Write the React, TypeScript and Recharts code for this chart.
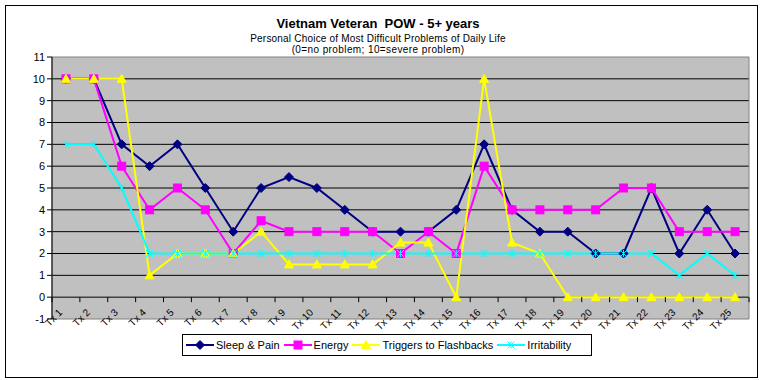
import React from 'react';
import { LineChart, Line, XAxis, YAxis, CartesianGrid, ReferenceArea, Legend } from 'recharts';

const categories = ['Tx 1', 'Tx 2', 'Tx 3', 'Tx 4', 'Tx 5', 'Tx 6', 'Tx 7', 'Tx 8', 'Tx 9', 'Tx 10', 'Tx 11', 'Tx 12', 'Tx 13', 'Tx 14', 'Tx 15', 'Tx 16', 'Tx 17', 'Tx 18', 'Tx 19', 'Tx 20', 'Tx 21', 'Tx 22', 'Tx 23', 'Tx 24', 'Tx 25'];
const sleepPain = [10, 10, 7, 6, 7, 5, 3, 5, 5.5, 5, 4, 3, 3, 3, 4, 7, 4, 3, 3, 2, 2, 5, 2, 4, 2];
const energy = [10, 10, 6, 4, 5, 4, 2, 3.5, 3, 3, 3, 3, 2, 3, 2, 6, 4, 4, 4, 4, 5, 5, 3, 3, 3];
const triggers = [10, 10, 10, 1, 2, 2, 2, 3, 1.5, 1.5, 1.5, 1.5, 2.5, 2.5, 0, 10, 2.5, 2, 0, 0, 0, 0, 0, 0, 0];
const irritability = [7, 7, 5, 2, 2, 2, 2, 2, 2, 2, 2, 2, 2, 2, 2, 2, 2, 2, 2, 2, 2, 2, 1, 2, 1];

const yTicks = [-1, 0, 1, 2, 3, 4, 5, 6, 7, 8, 9, 10, 11];
const gridValues = [0, 1, 2, 3, 4, 5, 6, 7, 8, 9, 10];

const titleText = 'Vietnam Veteran  POW - 5+ years';
const subtitle1 = 'Personal Choice of Most Difficult Problems of Daily Life';
const subtitle2 = '(0=no problem; 10=severe problem)';

const seriesList = [
  { key: 'sleep', name: 'Sleep & Pain', color: '#000080', shape: 'diamond' },
  { key: 'energy', name: 'Energy', color: '#FF00FF', shape: 'square' },
  { key: 'triggers', name: 'Triggers to Flashbacks', color: '#FFFF00', shape: 'triangle' },
  { key: 'irritability', name: 'Irritability', color: '#00FFFF', shape: 'star' },
];

const data = categories.map((c, i) => ({
  name: c,
  sleep: sleepPain[i],
  energy: energy[i],
  triggers: triggers[i],
  irritability: irritability[i],
}));

const FONT = 'Arial, "Liberation Sans", sans-serif';
const W = 764;
const H = 380;
const M = { top: 57, right: 15, left: 12, bottom: 31 };
const X_AXIS_H = 30;
const PLOT_H = H - M.top - M.bottom - X_AXIS_H;
const UNIT = PLOT_H / (yTicks[yTicks.length - 1] - yTicks[0]);

function Marker({ shape, cx, cy, color }: { shape: string; cx: number; cy: number; color: string }) {
  if (cx == null || cy == null) return null;
  if (shape === 'diamond') {
    const s = 4.5;
    return <polygon points={`${cx},${cy - s} ${cx + s},${cy} ${cx},${cy + s} ${cx - s},${cy}`} fill={color} stroke={color} />;
  }
  if (shape === 'square') {
    const s = 4;
    return <rect x={cx - s} y={cy - s} width={2 * s} height={2 * s} fill={color} stroke={color} />;
  }
  if (shape === 'triangle') {
    const s = 4.5;
    return <polygon points={`${cx},${cy - s} ${cx + s},${cy + s - 1} ${cx - s},${cy + s - 1}`} fill={color} stroke={color} />;
  }
  const s = 3.5;
  return (
    <g stroke={color} strokeWidth={1}>
      <line x1={cx - s} y1={cy - s} x2={cx + s} y2={cy + s} />
      <line x1={cx - s} y1={cy + s} x2={cx + s} y2={cy - s} />
      <line x1={cx} y1={cy - s} x2={cx} y2={cy + s} />
    </g>
  );
}

function makeDot(shape: string, color: string) {
  return (props: any) => <Marker key={`${shape}-${props.index}`} shape={shape} cx={props.cx} cy={props.cy} color={color} />;
}

function XTick(props: any) {
  const { x, y, payload, index } = props;
  const y0 = y - UNIT; // category axis crosses at value 0
  const half = payload && payload.offset ? payload.offset : 0;
  const px = x - 3;
  const py = y0 + 16;
  return (
    <g>
      <line x1={x - half} y1={y0} x2={x - half} y2={y0 + 5} stroke="#000" />
      {index === categories.length - 1 ? <line x1={x + half} y1={y0} x2={x + half} y2={y0 + 5} stroke="#000" /> : null}
      <text x={px} y={py} transform={`rotate(-45, ${px}, ${py})`} textAnchor="end" fontSize={10} fontFamily={FONT} fill="#000">
        {payload.value}
      </text>
    </g>
  );
}

function LegendContent() {
  return (
    <div
      style={{
        boxSizing: 'border-box',
        border: '1px solid #000',
        background: '#fff',
        height: 22,
        width: 410,
        display: 'flex',
        alignItems: 'center',
        paddingLeft: 3,
        fontFamily: FONT,
        fontSize: 11,
        color: '#000',
        whiteSpace: 'nowrap',
      }}
    >
      {seriesList.map((s) => (
        <div key={s.key} style={{ display: 'flex', alignItems: 'center', marginRight: 4 }}>
          <svg width={28} height={12} style={{ display: 'block' }}>
            <line x1={0} y1={6} x2={28} y2={6} stroke={s.color} strokeWidth={2} />
            <Marker shape={s.shape} cx={14} cy={6} color={s.color} />
          </svg>
          <span style={{ marginLeft: 2 }}>{s.name}</span>
        </div>
      ))}
    </div>
  );
}

export default function App() {
  return (
    <div style={{ position: 'absolute', left: 0, top: 0, width: W, height: H, background: '#fff', fontFamily: FONT }}>
      <div
        style={{
          position: 'absolute',
          left: 5,
          top: 5,
          width: 753,
          height: 373,
          boxSizing: 'border-box',
          border: '1px solid #000',
        }}
      />
      <div style={{ position: 'absolute', left: 0, width: 756, top: 17, textAlign: 'center', fontSize: 13, fontWeight: 'bold', lineHeight: '13px', whiteSpace: 'pre' }}>
        {titleText}
      </div>
      <div style={{ position: 'absolute', left: 0, width: 756, top: 33.5, textAlign: 'center', fontSize: 10, lineHeight: '10px', whiteSpace: 'pre', letterSpacing: 0.2 }}>
        {subtitle1}
      </div>
      <div style={{ position: 'absolute', left: 0, width: 756, top: 44.5, textAlign: 'center', fontSize: 10, lineHeight: '10px', whiteSpace: 'pre', letterSpacing: 0.4 }}>
        {subtitle2}
      </div>
      <div style={{ position: 'absolute', left: 0, top: 0 }}>
        <LineChart width={W} height={H} data={data} margin={M}>
          <CartesianGrid vertical={false} horizontalValues={gridValues} stroke="#000" fill="#C0C0C0" fillOpacity={1} />
          <ReferenceArea y1={-1} y2={11} fill="none" stroke="#808080" strokeWidth={1} ifOverflow="visible" />
          <XAxis
            dataKey="name"
            scale="band"
            height={X_AXIS_H}
            interval={0}
            axisLine={false}
            tickLine={false}
            tickSize={0}
            tickMargin={0}
            tick={<XTick />}
          />
          <YAxis
            width={40}
            domain={[-1, 11]}
            ticks={yTicks}
            interval={0}
            allowDecimals={false}
            stroke="#000"
            tickSize={5}
            tickMargin={2}
            tick={{ fontSize: 11, fontFamily: FONT, fill: '#000' }}
          />
          {seriesList.map((s) => (
            <Line
              key={s.key}
              dataKey={s.key}
              name={s.name}
              type="linear"
              stroke={s.color}
              strokeWidth={2}
              dot={makeDot(s.shape, s.color)}
              activeDot={false}
              isAnimationActive={false}
            />
          ))}
          <Legend
            layout="horizontal"
            verticalAlign="middle"
            align="center"
            content={<LegendContent />}
            wrapperStyle={{ left: 182, top: 334, width: 410, height: 22 }}
          />
        </LineChart>
      </div>
    </div>
  );
}
